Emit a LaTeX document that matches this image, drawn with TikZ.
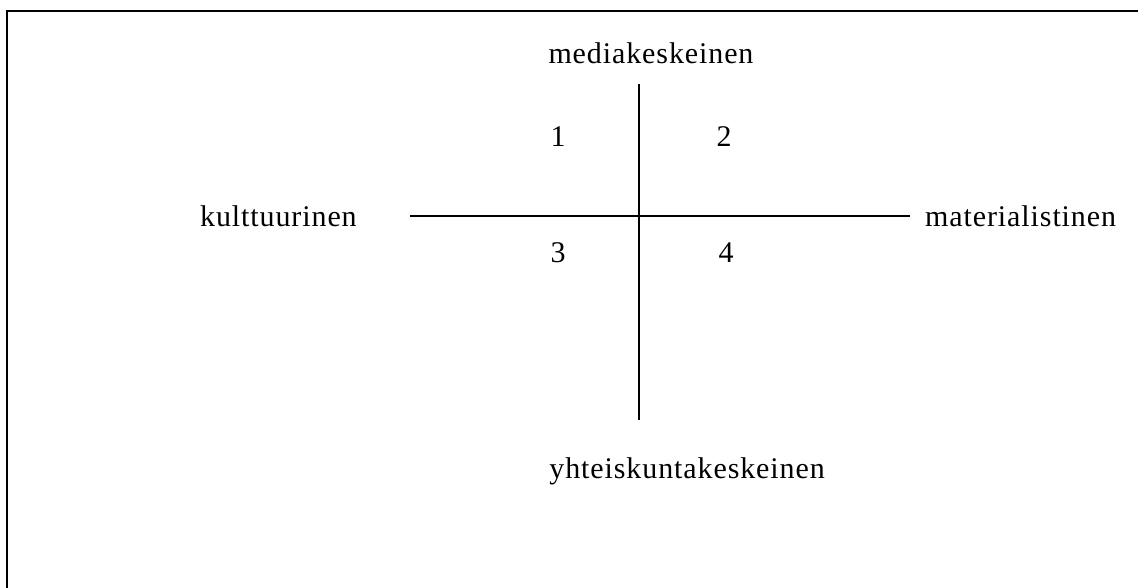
\documentclass[tikz,border=0pt]{standalone}
\usepackage{fontspec}
\setmainfont{Liberation Serif}[LetterSpace=3]
\begin{document}
\begin{tikzpicture}[x=1pt,y=-1pt,
  lab/.style={inner sep=0pt, font=\fontsize{30}{36}\selectfont},
  axis/.style={line width=2pt},
  frame/.style={line width=2.2pt}]
\useasboundingbox (0,0) rectangle (1138,587);
\begin{scope}
\clip (0,0) rectangle (1138,587);
\draw[frame] (7,600) -- (7,11) -- (1150,11);
\end{scope}
% axes
\coordinate (vtop) at (638.5,84);
\coordinate (vbot) at (638.5,420);
\coordinate (hl) at (410,216);
\coordinate (hr) at (910,216);
\draw[axis] (vtop) -- (vbot);
\draw[axis] (hl) -- (hr);
% labels
\node[lab, anchor=base] (top) at (651,63) {mediakeskeinen};
\node[lab, anchor=base east] (bottom) at (825,478) {yhteiskuntakeskeinen};
\node[lab, anchor=base west] (left) at (200,226) {kulttuurinen};
\node[lab, anchor=base west] (right) at (925,226) {materialistinen};
\node[lab, anchor=base] (q1) at (558,146) {1};
\node[lab, anchor=base] (q2) at (724,146) {2};
\node[lab, anchor=base] (q3) at (558,262) {3};
\node[lab, anchor=base] (q4) at (726,262) {4};
\end{tikzpicture}
\end{document}
